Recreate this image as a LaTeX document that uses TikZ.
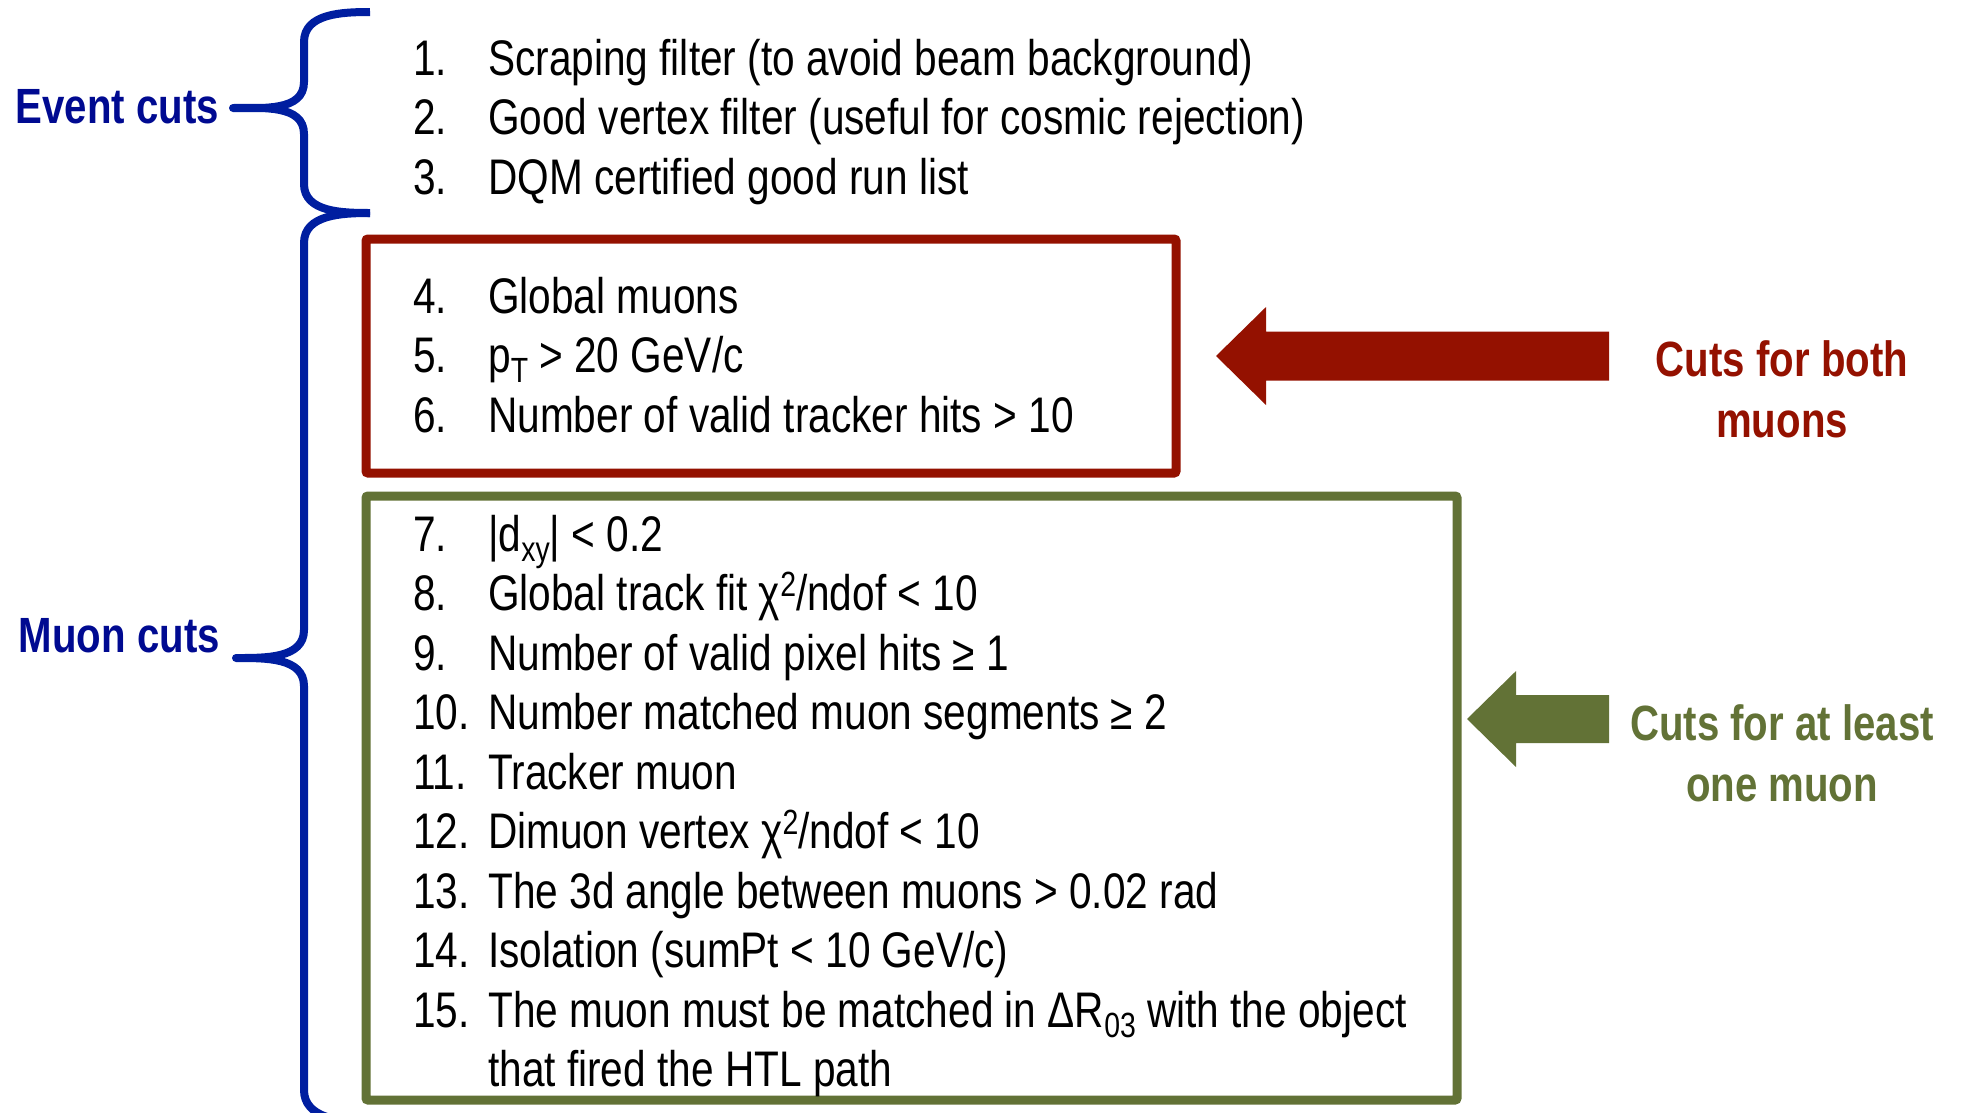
\documentclass[tikz,border=0pt]{standalone}
\usepackage{fontspec}
\setmainfont[FakeStretch=0.812]{Liberation Sans}
\usetikzlibrary{positioning}
\definecolor{bracecol}{RGB}{0,30,160}
\definecolor{evtcol}{RGB}{0,10,145}
\definecolor{bothcol}{RGB}{148,17,0}
\definecolor{onecol}{RGB}{98,114,54}
\newcommand{\num}[1]{\makebox[75pt][l]{#1}}
\newcommand{\lowidx}[1]{\raisebox{-10pt}{\fontsize{35}{35}\selectfont #1}}
\newcommand{\upidx}[1]{\raisebox{14pt}{\fontsize{35}{35}\selectfont #1}}

\begin{document}
\begin{tikzpicture}[x=1pt, y=-1pt,
item/.style={anchor=base west, inner sep=0pt, font=\fontsize{50}{59}\selectfont},
cutlabel/.style={inner sep=0pt, align=center, font=\fontsize{49.5}{61}\selectfont\bfseries},
brace/.style={draw=bracecol, line width=8pt, line join=round},
cutbox/.style={draw, line width=9pt, rounded corners=2pt, inner sep=0pt, outer sep=0pt, anchor=north west}]
\useasboundingbox (0,0) rectangle (1961,1112);
\clip (0,0) rectangle (1961,1112);

% left labels and braces
\node[cutlabel, text=evtcol, anchor=base east] (eventcuts) at (219,123) {Event cuts};
\node[cutlabel, text=evtcol, anchor=base east] (muoncuts) at (220,652) {Muon cuts};
\draw[brace] (370,12) to[out=180,in=90] (304,42) -- (304,82)
    to[out=-90,in=0] (233,108) to[out=0,in=90] (304,134) -- (304,184)
    to[out=-90,in=180] (370,213);
\draw[brace] (370,213) to[out=180,in=90] (304,243) -- (304,630)
    to[out=-90,in=0] (236,658) to[out=0,in=90] (304,686) -- (304,1090)
    to[out=-90,in=180] (370,1122);

% boxes
\node[cutbox, draw=bothcol, minimum width=810pt, minimum height=234pt] (bothbox) at (366,239) {};
\node[cutbox, draw=onecol, minimum width=1091pt, minimum height=604pt] (onebox) at (366,496) {};

% cut list
\node[item] (item1) at (413,75) {\num{1.}Scraping filter (to avoid beam background)};
\node[item] (item2) at (413,134.5) {\num{2.}Good vertex filter (useful for cosmic rejection)};
\node[item] (item3) at (413,194) {\num{3.}DQM certified good run list};
\node[item] (item4) at (413,313) {\num{4.}Global muons};
\node[item] (item5) at (413,372.5) {\num{5.}p\lowidx{T} > 20 GeV/c};
\node[item] (item6) at (413,432) {\num{6.}Number of valid tracker hits > 10};
\node[item] (item7) at (413,551) {\num{7.}|d\lowidx{xy}| < 0.2};
\node[item] (item8) at (413,610.5) {\num{8.}Global track fit χ\upidx{2}/ndof < 10};
\node[item] (item9) at (413,670) {\num{9.}Number of valid pixel hits ≥ 1};
\node[item] (item10) at (413,729.5) {\num{10.}Number matched muon segments ≥ 2};
\node[item] (item11) at (413,789) {\num{11.}Tracker muon};
\node[item] (item12) at (413,848.5) {\num{12.}Dimuon vertex χ\upidx{2}/ndof < 10};
\node[item] (item13) at (413,908) {\num{13.}The 3d angle between muons > 0.02 rad};
\node[item] (item14) at (413,967.5) {\num{14.}Isolation (sumPt < 10 GeV/c)};
\node[item] (item15) at (413,1027) {\num{15.}The muon must be matched in ΔR\lowidx{03} with the object};
\node[item] (item15b) at (488,1086.5) {that fired the HTL path};

% right labels and arrows
\node[cutlabel, text=bothcol, anchor=center] (bothlabel) at (1782,389) {Cuts for both\\muons};
\node[cutlabel, text=onecol, anchor=center] (onelabel) at (1782,753) {Cuts for at least\\one muon};
\coordinate (bothtip) at (1216,356);
\coordinate (onetip) at (1467,719);
\fill[bothcol] (bothtip) -- ++(50,-49) -- ++(0,24.5) -- ++(343,0) -- ++(0,49)
    -- ++(-343,0) -- ++(0,24.5) -- cycle;
\fill[onecol] (onetip) -- ++(49,-48) -- ++(0,24) -- ++(93,0) -- ++(0,48)
    -- ++(-93,0) -- ++(0,24) -- cycle;
\end{tikzpicture}
\end{document}
